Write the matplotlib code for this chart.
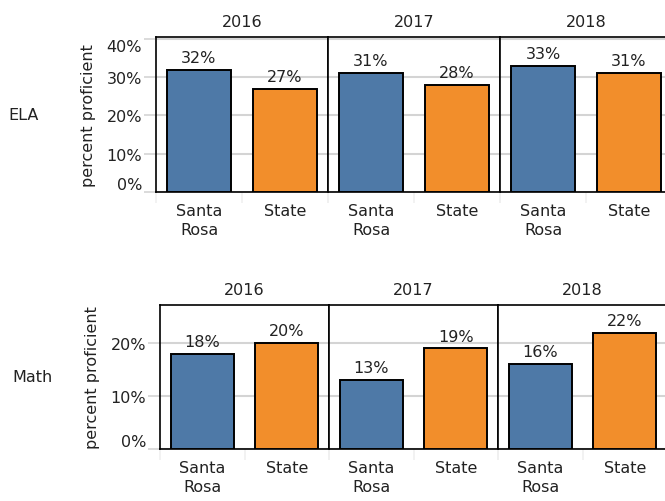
import numpy as np
import matplotlib.pyplot as plt

# Data
years = ["2016", "2017", "2018"]
groups = ["Santa\nRosa", "State"]
ela_values = [[32, 27], [31, 28], [33, 31]]
math_values = [[18, 20], [13, 19], [16, 22]]

BLUE = "#4e79a7"
ORANGE = "#f28e2b"
GRID = "#d4d4d4"
TEXT = "#222222"
FS = 11.5

plt.rcParams['font.family'] = ['DejaVu Sans']
plt.rcParams['font.size'] = FS

W, H = 665, 502
fig = plt.figure(figsize=(W / 100, H / 100), dpi=100)


def px_rect(left, top, width, height):
    return [left / W, 1 - (top + height) / H, width / W, height / H]


def draw_row(values, left, top, pw, ph, ymax, yticks, row_label, label_x, ylab_x):
    axes = []
    for i, year in enumerate(years):
        ax = fig.add_axes(px_rect(left + i * pw, top, pw, ph))
        vals = values[i]
        x = np.arange(len(groups))
        bars = ax.bar(x, vals, width=0.75, color=[BLUE, ORANGE],
                      edgecolor="black", linewidth=1.4, zorder=3)
        for b, v in zip(bars, vals):
            ax.annotate(f"{v}%", (b.get_x() + b.get_width() / 2, v),
                        xytext=(0, 3.5), textcoords="offset points",
                        ha="center", va="bottom", color=TEXT, fontsize=FS)
        ax.set_xlim(-0.5, 1.5)
        ax.set_ylim(0, ymax)
        ax.set_yticks(yticks)
        for t in yticks:
            ax.axhline(t, color=GRID, lw=1.5, zorder=1)
        ax.set_xticks(x)
        ax.set_xticklabels(groups, color=TEXT, linespacing=1.35)
        ax.tick_params(axis="x", length=0, pad=8)
        ax.set_xticks([-0.5, 0.5, 1.5], minor=True)
        ax.tick_params(axis="x", which="minor", length=8, width=1.2, color="#f0f0f0")
        for s in ax.spines.values():
            s.set_color("black")
            s.set_linewidth(1.2)
        ax.set_title(year, fontsize=FS, color=TEXT, pad=8)
        if i == 0:
            ax.set_yticklabels([f"{t}%" for t in yticks], color=TEXT)
            ax.tick_params(axis="y", length=9, width=1.2, color=GRID, pad=1)
            labels = ax.get_yticklabels()
            labels[0].set_va("bottom")
            if yticks[-1] >= ymax - 1:
                labels[-1].set_va("top")
        else:
            ax.tick_params(axis="y", length=0, labelleft=False)
        axes.append(ax)
    cy = 1 - (top + ph / 2) / H
    fig.text(ylab_x / W, cy, "percent proficient", rotation=90,
             ha="center", va="center", color=TEXT, fontsize=FS)
    fig.text(label_x / W, cy, row_label, ha="left", va="center",
             color=TEXT, fontsize=FS)
    return axes


draw_row(ela_values, 156, 38, 172, 155, 40.5, [0, 10, 20, 30, 40], "ELA", 8, 89)
draw_row(math_values, 160, 306, 169, 144, 27.2, [0, 10, 20], "Math", 12, 93)

fig.savefig("out.png", dpi=100)
